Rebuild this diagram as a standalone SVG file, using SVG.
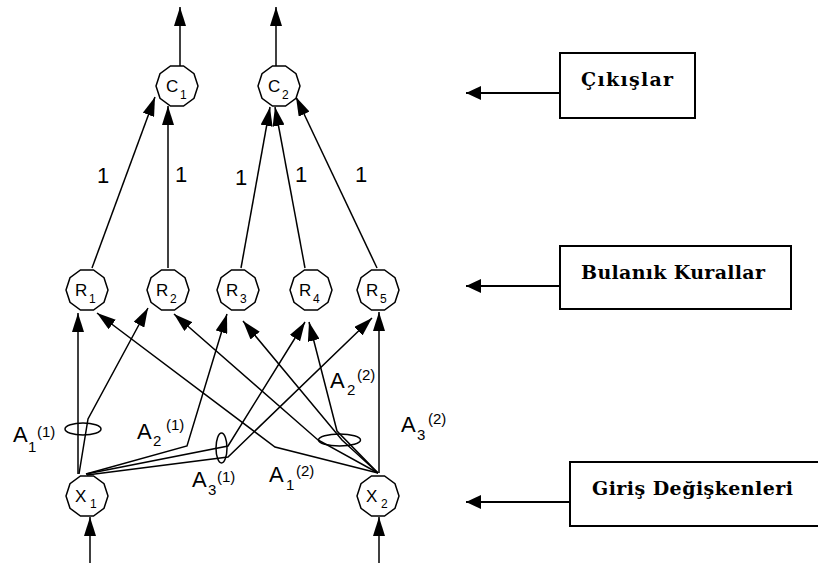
<svg xmlns="http://www.w3.org/2000/svg" xmlns:xlink="http://www.w3.org/1999/xlink" width="818" height="563" viewBox="0 0 818 563">
<style>
.bg{fill:#fff}
.node{fill:#fff;stroke:#000;stroke-width:1.5}
.lbl{font-family:"Liberation Sans",Arial,sans-serif;fill:#000}
.big{font-size:17px}
.sub{font-size:12px}
.one{font-size:22px}
.a{font-size:22px}
.as{font-size:15px}
.conn{fill:none;stroke:#000;stroke-width:1.5;stroke-linejoin:miter}
.ell{fill:none;stroke:#000;stroke-width:1.5}
.box{fill:#fff;stroke:#000;stroke-width:2}
.btxt{font-family:"DejaVu Serif","Liberation Serif",serif;font-weight:bold;font-size:19px;fill:#000}
.barr{fill:none;stroke:#000;stroke-width:2}
</style>
<defs>
<marker id="ah" markerUnits="userSpaceOnUse" markerWidth="20" markerHeight="12" refX="19" refY="6" orient="auto">
<path d="M0,0 L19,6 L0,12 z" fill="#000"/>
</marker>
<marker id="ahb" markerUnits="userSpaceOnUse" markerWidth="16" markerHeight="14" refX="15" refY="7" orient="auto">
<path d="M0,0 L15,7 L0,14 z" fill="#000"/>
</marker>
<path id="dec" d="M6.5,-20 L-6.5,-20 L-17,-12.3 L-21,0 L-17,12.3 L-6.5,20 L6.5,20 L17,12.3 L21,0 L17,-12.3 Z"/>
</defs>
<rect class="bg" x="0" y="0" width="818" height="563"/>

<g id="connectors">
<path class="conn" marker-end="url(#ah)" d="M78,474 L78,313"/>
<path class="conn" marker-end="url(#ah)" d="M79,474 L88,419 L148,308"/>
<path class="conn" marker-end="url(#ah)" d="M86,474 L187,446 L227,314"/>
<path class="conn" marker-end="url(#ah)" d="M86,474 L228,446 L305,322"/>
<path class="conn" marker-end="url(#ah)" d="M87,475 L228,457 L372,318"/>
<path class="conn" marker-end="url(#ah)" d="M378,473 L275,447 L97,313"/>
<path class="conn" marker-end="url(#ah)" d="M378,473 L318,440 L174,314"/>
<path class="conn" marker-end="url(#ah)" d="M378,473 L342,440 L243,321"/>
<path class="conn" marker-end="url(#ah)" d="M378,473 L337,431 L309,322"/>
<path class="conn" marker-end="url(#ah)" d="M379,473 L379,312"/>
<path class="conn" marker-end="url(#ah)" d="M92,268 L155,97"/>
<path class="conn" marker-end="url(#ah)" d="M168,268 L168,106"/>
<path class="conn" marker-end="url(#ah)" d="M241,268 L270,107"/>
<path class="conn" marker-end="url(#ah)" d="M305,268 L275,107"/>
<path class="conn" marker-end="url(#ah)" d="M377,268 L296,97"/>
<path class="conn" marker-end="url(#ah)" d="M180,66 L180,7"/>
<path class="conn" marker-end="url(#ah)" d="M276,66 L276,7"/>
<path class="conn" marker-end="url(#ah)" d="M90,563 L90,517"/>
<path class="conn" marker-end="url(#ah)" d="M379,563 L379,517"/>
<ellipse class="ell" cx="83" cy="429" rx="18" ry="6"/>
<ellipse class="ell" cx="221.5" cy="448" rx="5.5" ry="15"/>
<ellipse class="ell" cx="339.5" cy="440" rx="21" ry="6"/>
<path class="barr" marker-end="url(#ahb)" d="M560,93 L466,93"/>
<path class="barr" marker-end="url(#ahb)" d="M560,286 L466,286"/>
<path class="barr" marker-end="url(#ahb)" d="M570,502 L466,502"/>
</g>

<g id="C1"><use href="#dec" class="node" x="177" y="86"/><text class="lbl big" x="166" y="92">C</text><text class="lbl sub" x="180" y="99">1</text></g>
<g id="C2"><use href="#dec" class="node" x="279" y="86"/><text class="lbl big" x="268" y="92">C</text><text class="lbl sub" x="282" y="99">2</text></g>
<g id="R1"><use href="#dec" class="node" x="87" y="290"/><text class="lbl big" x="75" y="296">R</text><text class="lbl sub" x="89" y="303">1</text></g>
<g id="R2"><use href="#dec" class="node" x="168" y="290"/><text class="lbl big" x="156" y="296">R</text><text class="lbl sub" x="170" y="303">2</text></g>
<g id="R3"><use href="#dec" class="node" x="238" y="290"/><text class="lbl big" x="226" y="296">R</text><text class="lbl sub" x="240" y="303">3</text></g>
<g id="R4"><use href="#dec" class="node" x="311" y="290"/><text class="lbl big" x="299" y="296">R</text><text class="lbl sub" x="313" y="303">4</text></g>
<g id="R5"><use href="#dec" class="node" x="378" y="290"/><text class="lbl big" x="366" y="296">R</text><text class="lbl sub" x="380" y="303">5</text></g>
<g id="X1"><use href="#dec" class="node" x="87" y="496"/><text class="lbl big" x="75" y="502">X</text><text class="lbl sub" x="90" y="508">1</text></g>
<g id="X2"><use href="#dec" class="node" x="378" y="496"/><text class="lbl big" x="366" y="502">X</text><text class="lbl sub" x="381" y="508">2</text></g>

<g id="weights">
<text class="lbl one" x="97" y="183">1</text>
<text class="lbl one" x="175" y="182">1</text>
<text class="lbl one" x="235" y="185">1</text>
<text class="lbl one" x="295" y="182">1</text>
<text class="lbl one" x="355" y="182">1</text>
</g>

<g id="sets">
<text class="lbl a" x="13" y="442">A</text><text class="lbl as" x="28" y="452">1</text><text class="lbl as" x="37" y="437">(1)</text>
<text class="lbl a" x="137" y="439">A</text><text class="lbl as" x="153" y="446">2</text><text class="lbl as" x="166" y="430">(1)</text>
<text class="lbl a" x="192" y="487">A</text><text class="lbl as" x="208" y="495">3</text><text class="lbl as" x="217" y="482">(1)</text>
<text class="lbl a" x="269" y="482">A</text><text class="lbl as" x="286" y="490">1</text><text class="lbl as" x="296" y="476">(2)</text>
<text class="lbl a" x="330" y="388">A</text><text class="lbl as" x="347" y="395">2</text><text class="lbl as" x="357" y="380">(2)</text>
<text class="lbl a" x="401" y="432">A</text><text class="lbl as" x="417" y="440">3</text><text class="lbl as" x="428" y="424">(2)</text>
</g>

<g id="box-cikislar"><rect class="box" x="560" y="53" width="135" height="65"/><text class="btxt" x="581" y="86" textLength="92" lengthAdjust="spacing">Çıkışlar</text></g>
<g id="box-kurallar"><rect class="box" x="560" y="246" width="231" height="63"/><text class="btxt" x="581" y="279" textLength="184" lengthAdjust="spacing">Bulanık Kurallar</text></g>
<g id="box-giris"><rect class="box" x="570" y="462" width="252" height="64"/><text class="btxt" x="592" y="495" textLength="201" lengthAdjust="spacing">Giriş Değişkenleri</text></g>
</svg>
